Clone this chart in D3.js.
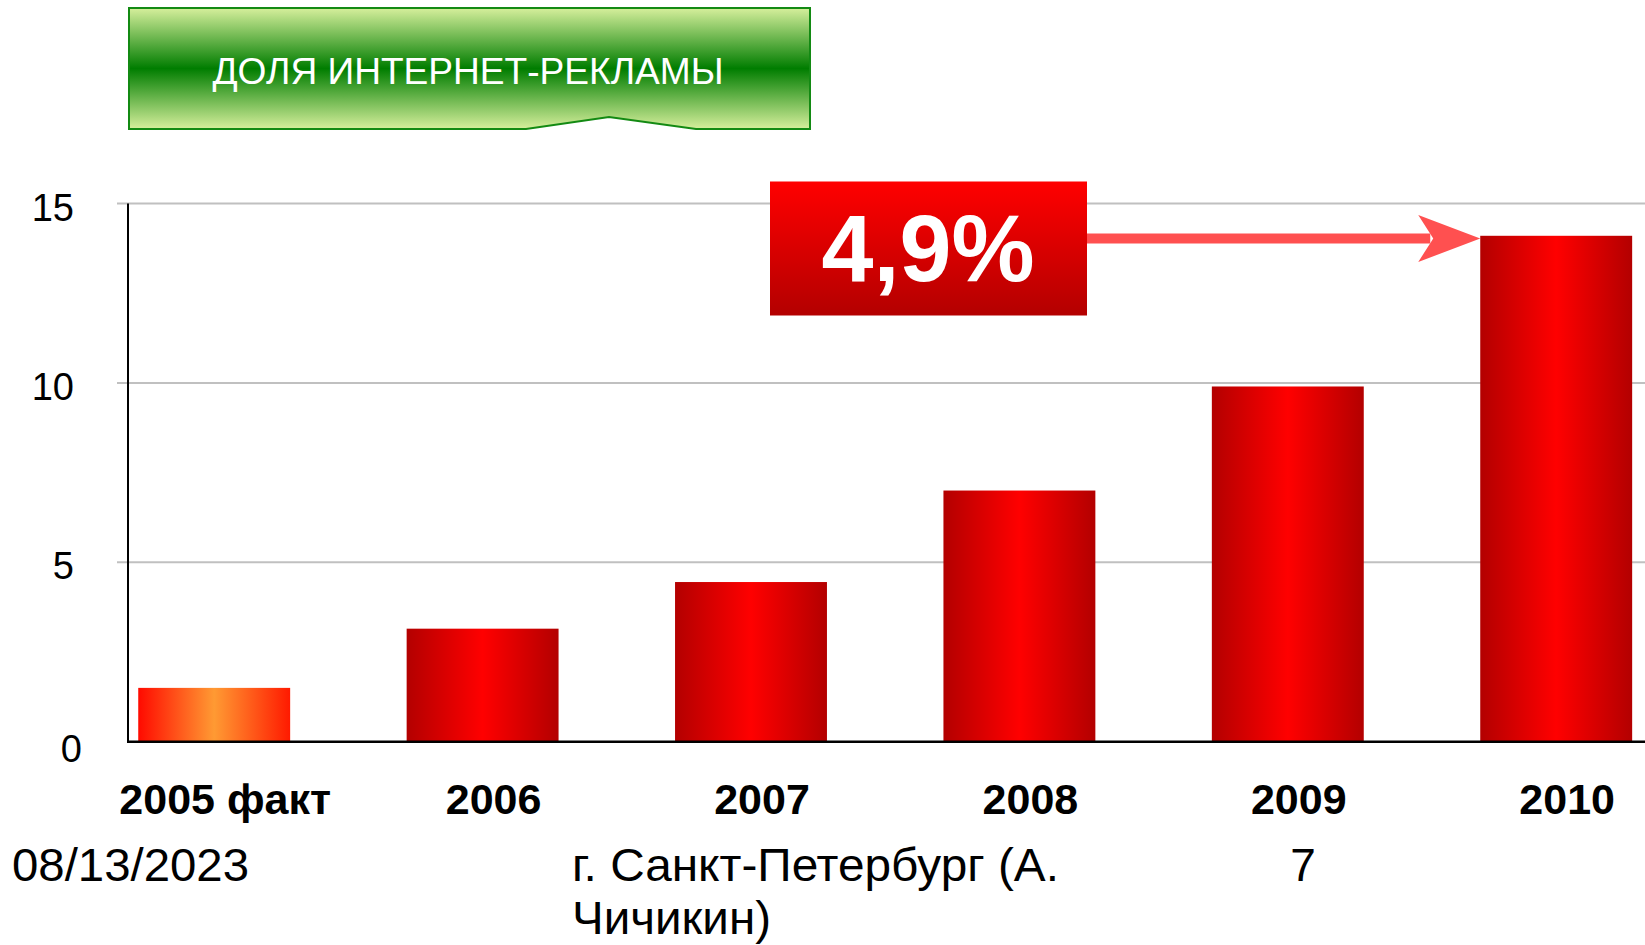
<!DOCTYPE html>
<html>
<head>
  <script src="https://d3js.org/d3.v7.min.js"></script>
  <style>
    html, body {
      margin: 0px;
      padding: 0px;
      background: #ffffff;
      font-family: "Liberation Sans", Arial, Helvetica, sans-serif;
    }

    svg {
      display: block;
    }

    .axisLabel {
      font-size: 38px;
      fill: #000000;
    }

    .catLabel {
      font-size: 43px;
      font-weight: bold;
      fill: #000000;
    }

    .footer {
      font-size: 46px;
      fill: #000000;
    }
  </style>
</head>
<body>
  <div id="chart"></div>
  <script>

      /*
      DATA
      */
      const categories = ["2005 факт", "2006", "2007", "2008", "2009", "2010"];
      const values = [1.5, 3.15, 4.45, 7.0, 9.9, 14.1];
      const yTicks = [0, 5, 10, 15];

      const titleText = "ДОЛЯ ИНТЕРНЕТ-РЕКЛАМЫ";
      const calloutText = "4,9%";

      /*
      SVG CANVAS
      */
      const width = 1645;
      const height = 945;
      const margin = {top: 203.5, left: 128, right: 0, bottom: 203.3};

      const svg = d3.select("#chart")
        .append("svg")
        .attr("width", width)
        .attr("height", height);

      const defs = svg.append("defs");

      // bar gradients: dark edges, bright middle
      const redBar = defs.append("linearGradient")
        .attr("id", "redBar")
        .attr("x1", "0%").attr("x2", "100%").attr("y1", "0%").attr("y2", "0%");
      redBar.append("stop").attr("offset", "0%").attr("stop-color", "#b30000");
      redBar.append("stop").attr("offset", "50%").attr("stop-color", "#ff0000");
      redBar.append("stop").attr("offset", "100%").attr("stop-color", "#b30000");

      const orangeBar = defs.append("linearGradient")
        .attr("id", "orangeBar")
        .attr("x1", "0%").attr("x2", "100%").attr("y1", "0%").attr("y2", "0%");
      orangeBar.append("stop").attr("offset", "0%").attr("stop-color", "#ff0a00");
      orangeBar.append("stop").attr("offset", "50%").attr("stop-color", "#ff9a33");
      orangeBar.append("stop").attr("offset", "100%").attr("stop-color", "#ff1a00");

      const greenBox = defs.append("linearGradient")
        .attr("id", "greenBox")
        .attr("x1", "0%").attr("x2", "0%").attr("y1", "0%").attr("y2", "100%");
      greenBox.append("stop").attr("offset", "0%").attr("stop-color", "#d6ef9c");
      greenBox.append("stop").attr("offset", "50%").attr("stop-color", "#007d00");
      greenBox.append("stop").attr("offset", "100%").attr("stop-color", "#d6ef9c");

      const redBox = defs.append("linearGradient")
        .attr("id", "redBox")
        .attr("x1", "0%").attr("x2", "0%").attr("y1", "0%").attr("y2", "100%");
      redBox.append("stop").attr("offset", "0%").attr("stop-color", "#ff0000");
      redBox.append("stop").attr("offset", "100%").attr("stop-color", "#b30000");

      /*
      SCALES
      */
      const xScale = d3.scaleBand()
        .domain(categories)
        .range([80, 1690.4])
        .paddingInner(0.434)
        .paddingOuter(0.217);

      const yScale = d3.scaleLinear()
        .domain([0, 15])
        .range([741.7, margin.top]);

      /*
      GRIDLINES + AXES
      */
      svg.append("g")
        .selectAll("line")
        .data(yTicks.filter(d => d > 0))
        .join("line")
          .attr("x1", 117)
          .attr("x2", width)
          .attr("y1", d => yScale(d))
          .attr("y2", d => yScale(d))
          .attr("stroke", "#c0c0c0")
          .attr("stroke-width", 2);

      svg.append("g")
        .selectAll("text")
        .data(yTicks)
        .join("text")
          .attr("class", "axisLabel")
          .attr("x", d => d === 0 ? 82 : 74)
          .attr("y", d => yScale(d) + (d === 0 ? 20 : 17))
          .attr("text-anchor", "end")
          .text(d => d);

      /*
      BARS
      */
      svg.append("g")
        .selectAll("rect")
        .data(values)
        .join("rect")
          .attr("x", (d, i) => xScale(categories[i]))
          .attr("y", d => yScale(d))
          .attr("width", xScale.bandwidth())
          .attr("height", d => yScale(0) - yScale(d))
          .attr("fill", (d, i) => i === 0 ? "url(#orangeBar)" : "url(#redBar)");

      // axis lines drawn on top of the bars
      svg.append("line")
        .attr("x1", margin.left).attr("x2", margin.left)
        .attr("y1", yScale(15)).attr("y2", yScale(0))
        .attr("stroke", "#000").attr("stroke-width", 2);

      svg.append("line")
        .attr("x1", margin.left - 1).attr("x2", width)
        .attr("y1", yScale(0)).attr("y2", yScale(0))
        .attr("stroke", "#000").attr("stroke-width", 2.5);

      svg.append("g")
        .selectAll("text")
        .data(categories)
        .join("text")
          .attr("class", "catLabel")
          .attr("x", d => xScale(d) + xScale.bandwidth() / 2 + 11)
          .attr("y", 814)
          .attr("text-anchor", "middle")
          .text(d => d);

      /*
      TITLE BANNER
      */
      svg.append("path")
        .attr("d", "M129,8 H810 V129 H696 L609,117 L526,129 H129 Z")
        .attr("fill", "url(#greenBox)")
        .attr("stroke", "#138a13")
        .attr("stroke-width", 2);

      svg.append("text")
        .attr("x", 468)
        .attr("y", 84)
        .attr("text-anchor", "middle")
        .attr("fill", "#ffffff")
        .style("font-size", "37px")
        .attr("textLength", 511)
        .attr("lengthAdjust", "spacingAndGlyphs")
        .text(titleText);

      /*
      CALLOUT + ARROW
      */
      const last = categories[categories.length - 1];
      const tipX = xScale(last);
      const arrowY = 238.5;

      svg.append("line")
        .attr("x1", 1087)
        .attr("x2", tipX - 50)
        .attr("y1", arrowY)
        .attr("y2", arrowY)
        .attr("stroke", "#ff5050")
        .attr("stroke-width", 10);

      svg.append("path")
        .attr("d", `M${tipX},${arrowY} L${tipX - 62},${arrowY - 23.5} L${tipX - 47},${arrowY} L${tipX - 62},${arrowY + 23.5} Z`)
        .attr("fill", "#ff5050");

      svg.append("rect")
        .attr("x", 770)
        .attr("y", 181.5)
        .attr("width", 317)
        .attr("height", 134)
        .attr("fill", "url(#redBox)");

      svg.append("text")
        .attr("x", 928)
        .attr("y", 281)
        .attr("text-anchor", "middle")
        .attr("fill", "#ffffff")
        .style("font-size", "95px")
        .style("font-weight", "bold")
        .attr("textLength", 213)
        .attr("lengthAdjust", "spacingAndGlyphs")
        .text(calloutText);

      /*
      FOOTER
      */
      svg.append("text")
        .attr("class", "footer")
        .attr("x", 12)
        .attr("y", 881)
        .attr("textLength", 237)
        .attr("lengthAdjust", "spacingAndGlyphs")
        .text("08/13/2023");

      svg.append("text")
        .attr("class", "footer")
        .attr("x", 572)
        .attr("y", 881)
        .attr("textLength", 487)
        .attr("lengthAdjust", "spacingAndGlyphs")
        .text("г. Санкт-Петербург (А.");

      svg.append("text")
        .attr("class", "footer")
        .attr("x", 572)
        .attr("y", 934)
        .attr("textLength", 199)
        .attr("lengthAdjust", "spacingAndGlyphs")
        .text("Чичикин)");

      svg.append("text")
        .attr("class", "footer")
        .attr("x", 1303)
        .attr("y", 881)
        .attr("text-anchor", "middle")
        .text("7");

  </script>
</body>
</html>
